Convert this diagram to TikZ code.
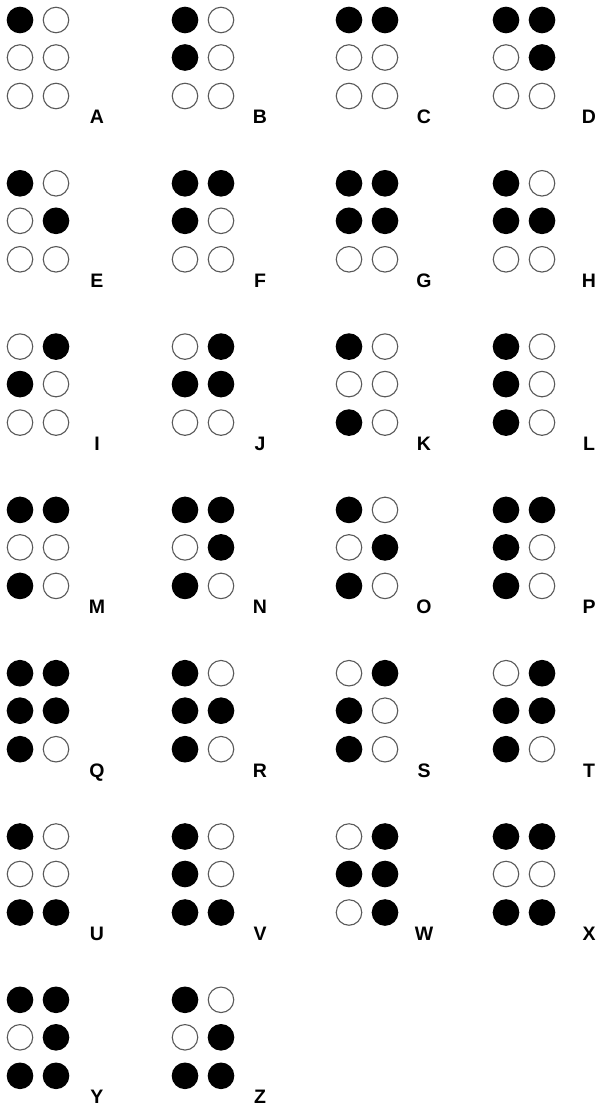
\documentclass[tikz,border=0pt]{standalone}
\usepackage{fontspec}
\setmainfont{Liberation Sans}
\begin{document}
\begin{tikzpicture}[x=1pt,y=-1pt,
  dot/.style={circle,minimum size=25.5pt,inner sep=0pt,line width=1.1pt},
  s1/.style={dot,fill=black,draw=black},
  s0/.style={dot,fill=white,draw=black!65},
  lettr/.style={font=\fontsize{19.5}{19.5}\selectfont\bfseries,anchor=base,inner sep=0pt,text depth=0pt}]
\useasboundingbox (0,0) rectangle (596,1107);
\foreach \L/\c/\r/\p in {
  A/0/0/{1,0,0,0,0,0}, B/1/0/{1,1,0,0,0,0}, C/2/0/{1,0,0,1,0,0}, D/3/0/{1,0,0,1,1,0},
  E/0/1/{1,0,0,0,1,0}, F/1/1/{1,1,0,1,0,0}, G/2/1/{1,1,0,1,1,0}, H/3/1/{1,1,0,0,1,0},
  I/0/2/{0,1,0,1,0,0}, J/1/2/{0,1,0,1,1,0}, K/2/2/{1,0,1,0,0,0}, L/3/2/{1,1,1,0,0,0},
  M/0/3/{1,0,1,1,0,0}, N/1/3/{1,0,1,1,1,0}, O/2/3/{1,0,1,0,1,0}, P/3/3/{1,1,1,1,0,0},
  Q/0/4/{1,1,1,1,1,0}, R/1/4/{1,1,1,0,1,0}, S/2/4/{0,1,1,1,0,0}, T/3/4/{0,1,1,1,1,0},
  U/0/5/{1,0,1,0,0,1}, V/1/5/{1,1,1,0,0,1}, W/2/5/{0,1,0,1,1,1}, X/3/5/{1,0,1,1,0,1},
  Y/0/6/{1,0,1,1,1,1}, Z/1/6/{1,0,1,0,1,1}}{
  \pgfmathsetmacro\cx{{20,185,349,506}[\c]}
  \pgfmathsetmacro\lx{{97,260,424,589}[\c]}
  \pgfmathsetmacro\ry{20+163.3*\r}
  \foreach \v [count=\k] in \p {
    \pgfmathsetmacro\dx{\cx+36*int((\k-1)/3)}
    \pgfmathsetmacro\dy{\ry+{0,37.5,76}[mod(\k-1,3)]}
    \node[s\v] (\L\k) at (\dx,\dy) {};
  }
  \node[lettr] (lab\L) at (\lx,\ry+104) {\L};
}
\end{tikzpicture}
\end{document}
